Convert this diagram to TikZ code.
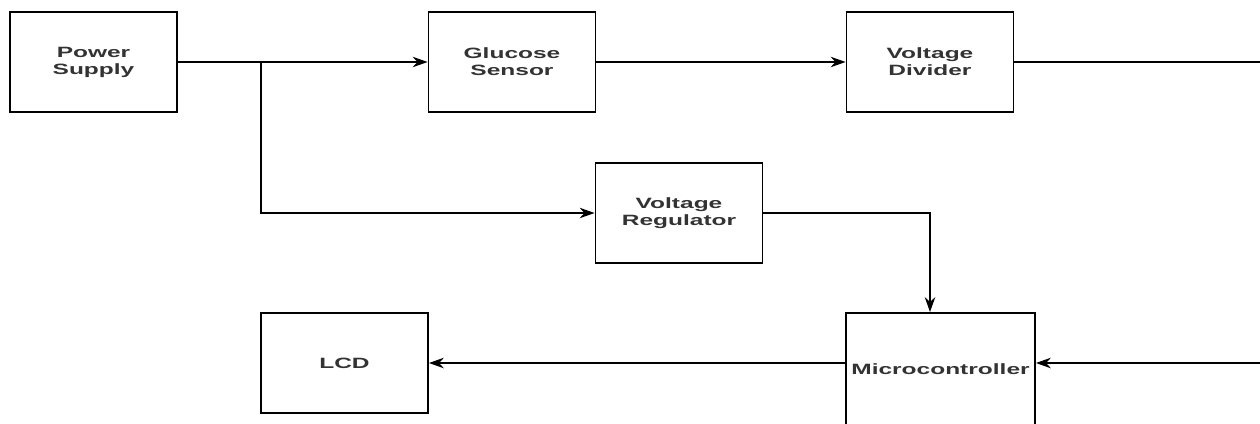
\documentclass[tikz,border=0pt]{standalone}
\usepackage{fontspec}
\setmainfont{Liberation Sans}[FakeStretch=1.64]
\usetikzlibrary{arrows.meta}

\tikzset{
  blk/.style = {draw, line width=1.1pt, minimum width=3.34cm, minimum height=2cm,
                align=center, inner sep=0pt, text=black!80,
                font=\fontsize{8.5}{9.7}\selectfont\bfseries},
  wire/.style = {draw, line width=0.75pt},
  pin /.tip = {Stealth[length=8.5pt,width=6pt]}
}

\begin{document}
\begin{tikzpicture}[x=0.02cm,y=-0.02cm]
\useasboundingbox (0,0) rectangle (1260,423);
\clip (0,0) rectangle (1260,423);

\node[blk] (ps)  at (93.5,62)  {Power\\Supply};
\node[blk] (gs)  at (512,62)   {Glucose\\Sensor};
\node[blk] (vd)  at (930,62)   {Voltage\\Divider};
\node[blk] (vr)  at (679,213)  {Voltage\\Regulator};
\node[blk] (lcd) at (344.5,363) {LCD};
\node[blk, minimum width=3.78cm, minimum height=2.24cm] (mc) at (940.5,369) {Microcontroller};

\coordinate (split) at (261,62);
\coordinate (edge)  at (1280,62);
\coordinate (mcin)  at (mc.east |- lcd);

\draw [wire,-{pin}] (ps.east) -- (gs.west);
\draw [wire,-{pin}] (gs.east) -- (vd.west);
\draw [wire,-{pin}] (split) |- (vr.west);
\draw [wire,-{pin}] (vr.east) -| ([xshift=-0.21cm]mc.north);
\draw [wire,-{pin}] (vd.east) -- (edge) |- (mcin);
\draw [wire,-{pin}] (mc.west |- lcd) -- (lcd.east);
\end{tikzpicture}
\end{document}
